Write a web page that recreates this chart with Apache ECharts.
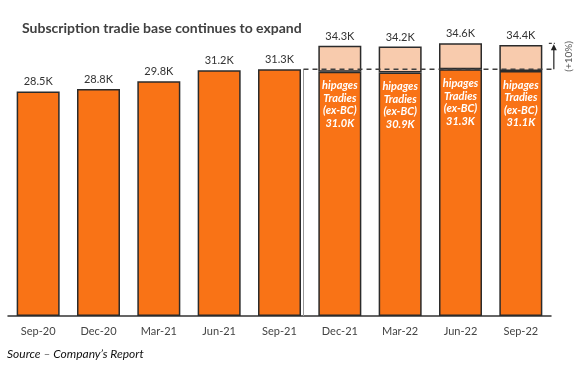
<!DOCTYPE html>
<html><head><meta charset="utf-8">
<script src="https://cdn.jsdelivr.net/npm/echarts@6/dist/echarts.min.js"></script>
<style>html,body{margin:0;padding:0;background:#fff}#c{width:584px;height:367px}</style>
</head><body><div id="c"></div>
<script>
const categories = ['Sep-20','Dec-20','Mar-21','Jun-21','Sep-21','Dec-21','Mar-22','Jun-22','Sep-22'];
const baseValues = [28.5, 28.8, 29.8, 31.2, 31.3, 31.0, 30.9, 31.3, 31.1];
const totalValues = [null, null, null, null, null, 34.3, 34.2, 34.6, 34.4];
const referenceLevel = 31.3;
const growthLabel = '(+10%)';

const ORANGE = '#F97316';
const PEACH = '#F8CBAD';
const BORDER = '#2b2b2b';
const BAR_W = 43;

const chart = echarts.init(document.getElementById('c'), null, {renderer: 'canvas'});

const baseData = baseValues.map((v, i) => {
  const hasTop = totalValues[i] != null;
  return {
    value: v,
    label: hasTop ? {
      show: true, position: 'insideTop', distance: 8,
      formatter: 'hipages\nTradies\n(ex-BC)\n' + v.toFixed(1) + 'K',
      color: '#fff', fontStyle: 'italic', fontWeight: 'bold', fontSize: 11,
      lineHeight: 12.5, fontFamily: 'Lato'
    } : {
      show: true, position: 'top', distance: 4,
      formatter: v.toFixed(1) + 'K', color: '#333', fontSize: 11, fontFamily: 'Lato'
    }
  };
});
const topData = totalValues.map((t, i) => t == null ? null : {
  value: +(t - baseValues[i]).toFixed(2),
  label: {show: true, position: 'top', distance: 4, formatter: t.toFixed(1) + 'K',
    color: '#333', fontSize: 11, fontFamily: 'Lato'}
});

chart.setOption({
  animation: false,
  title: {text: 'Subscription tradie base continues to expand', left: 17, top: 16,
    textStyle: {fontFamily: 'Lato', fontWeight: 'bold', fontSize: 14, color: '#404040'}},
  grid: {left: 8, right: 33, top: 32.3, bottom: 51},
  xAxis: {type: 'category', data: categories,
    axisLine: {lineStyle: {color: '#333', width: 1.5}}, axisTick: {show: false},
    axisLabel: {color: '#444', fontSize: 11, fontFamily: 'Lato', margin: 10}},
  yAxis: {type: 'value', min: 0, max: 36, show: false, splitLine: {show: false}},
  series: [
    {type: 'bar', stack: 's', data: baseData, barWidth: BAR_W,
      itemStyle: {color: ORANGE, borderColor: BORDER, borderWidth: 1.5}},
    {type: 'bar', stack: 's', data: topData, barWidth: BAR_W,
      itemStyle: {color: PEACH, borderColor: BORDER, borderWidth: 1.5}}
  ]
});

function drawAnnotations() {
  const yRef = chart.convertToPixel({yAxisIndex: 0}, referenceLevel);
  const yBase = chart.convertToPixel({yAxisIndex: 0}, 0);
  const maxTotal = Math.max(...totalValues.filter(v => v != null));
  const yTop = chart.convertToPixel({yAxisIndex: 0}, maxTotal);
  const xSep21 = chart.convertToPixel({xAxisIndex: 0}, 'Sep-21');
  const xLast = chart.convertToPixel({xAxisIndex: 0}, categories[categories.length - 1]);
  const xSplit = xSep21 + BAR_W / 2 + 2.5;
  const xEnd = xLast + 33;
  chart.setOption({graphic: [
    {type: 'line', shape: {x1: xSplit, y1: yRef, x2: xSplit, y2: yBase},
      style: {stroke: '#999', lineWidth: 1}, z: 1},
    {type: 'line', shape: {x1: xSplit, y1: yRef, x2: xEnd, y2: yRef},
      style: {stroke: '#404040', lineWidth: 1.5, lineDash: [5, 4]}, z: 100},
    {type: 'line', shape: {x1: xEnd - 5, y1: yTop, x2: xEnd + 1, y2: yTop},
      style: {stroke: '#404040', lineWidth: 1.2, lineDash: [3, 2]}, z: 100},
    {type: 'line', shape: {x1: xEnd, y1: yRef, x2: xEnd, y2: yTop + 4},
      style: {stroke: '#222', lineWidth: 1.2}, z: 100},
    {type: 'polygon', shape: {points: [[xEnd - 3, yTop + 7], [xEnd + 3, yTop + 7], [xEnd, yTop + 1]]},
      style: {fill: '#222'}, z: 100},
    {type: 'text', x: xEnd + 15, y: (yRef + yTop) / 2, rotation: Math.PI / 2,
      style: {text: growthLabel, fill: '#555', fontSize: 10, fontFamily: 'Lato',
        align: 'center', verticalAlign: 'middle'}, z: 100},
    {type: 'text', left: 7, top: 348,
      style: {text: 'Source – Company’s Report', fill: '#111', fontSize: 12,
        fontStyle: 'italic', fontFamily: 'Lato'}}
  ]});
}
drawAnnotations();
</script></body></html>
